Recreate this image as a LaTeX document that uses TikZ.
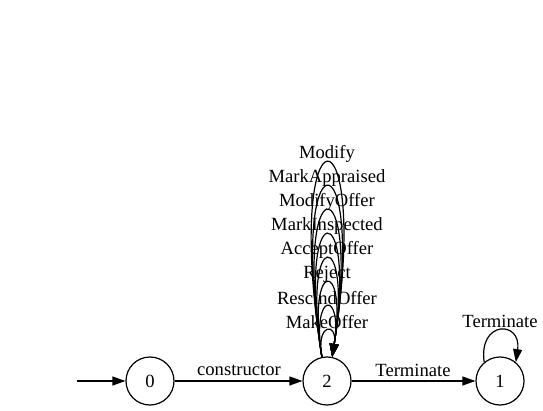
\documentclass[tikz,border=0pt]{standalone}
\usepackage{fontspec}
\setmainfont{Liberation Serif}
\usetikzlibrary{arrows.meta}
\begin{document}
\begin{tikzpicture}[x=1pt,y=-1pt,
  state/.style={draw,circle,minimum size=48pt,inner sep=0pt,line width=1.2pt,font=\fontsize{18.6}{21}\selectfont},
  edge/.style={draw,line width=1.2pt,-{Triangle[length=13pt,width=9pt]}},
  lbl/.style={inner sep=0pt,font=\fontsize{18.6}{21}\selectfont}]
\useasboundingbox (0,0) rectangle (543,411);
\node[state] (n0) at (150,381) {0};
\node[state] (n2) at (327,381) {2};
\node[state] (n1) at (500,381) {1};
\coordinate (start) at (77,381);
\draw[edge] (start) -- (n0);
\draw[edge] (n0) -- (n2);
\draw[edge] (n2) -- (n1);
\node[lbl] (lc) at (239,370) {constructor};
\node[lbl] (lt) at (413,370) {Terminate};
\foreach \a/\c in {41/259,36/227,31/195,26/163,21/131,16/99,11/67,6/35}{
  \draw[edge] (n2.102) .. controls +(-\a,-\c) and +(\a,-\c) .. (n2.78);
}
\node[lbl] (l1) at (327,154) {Modify};
\node[lbl] (l2) at (327,178) {MarkAppraised};
\node[lbl] (l3) at (327,202) {ModifyOffer};
\node[lbl] (l4) at (327,226) {MarkInspected};
\node[lbl] (l5) at (327,250) {AcceptOffer};
\node[lbl] (l6) at (327,274) {Reject};
\node[lbl] (l7) at (327,298) {RescindOffer};
\node[lbl] (l8) at (327,322) {MakeOffer};
\draw[edge] (n1.130) .. controls +(-6,-42) and +(6,-42) .. (n1.50);
\node[lbl] (l9) at (500,321) {Terminate};
\end{tikzpicture}
\end{document}
